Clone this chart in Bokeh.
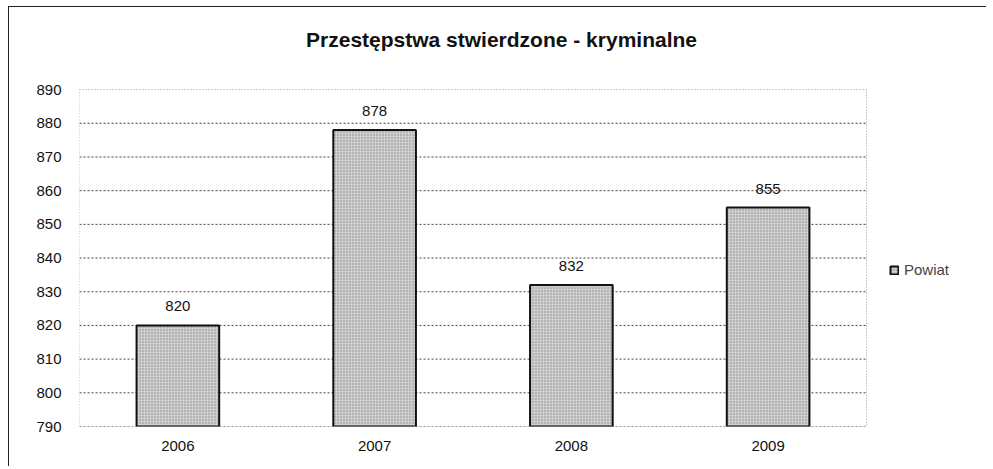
from bokeh.plotting import figure
from bokeh.models import ColumnDataSource, Legend, LegendItem, LabelSet, Label, Range1d, FixedTicker
from bokeh.core.properties import value
from bokeh.embed import file_html
from bokeh.resources import INLINE

years = ["2006", "2007", "2008", "2009"]
values = [820, 878, 832, 855]
labels = [str(v) for v in values]
y_ticks = list(range(790, 891, 10))
series_name = "Powiat"
title = "Przestępstwa stwierdzone - kryminalne"

n = len(years)
xs = [i + 0.5 for i in range(n)]
src = ColumnDataSource(dict(x=xs, top=values, lab=labels))

# frame extended upward (room for title) and to the right (room for legend)
p = figure(x_range=Range1d(0, n + 0.61), y_range=Range1d(y_ticks[0], y_ticks[-1] + 22),
           frame_width=907, frame_height=411,
           output_backend="svg", toolbar_location=None,
           min_border_left=70, min_border_right=0, min_border_top=8, min_border_bottom=40)
p.styles = {"border-left": "1px solid #222", "border-top": "1px solid #222",
            "margin-left": "8px", "margin-top": "6px"}
p.title = None
p.outline_line_color = None
p.xgrid.grid_line_color = None
p.ygrid.grid_line_color = None

# grid lines across the plot area only
grid_y = y_ticks[:-1]
p.segment(x0=[0] * len(grid_y), x1=[n] * len(grid_y), y0=grid_y, y1=grid_y,
          line_color="#444444", line_dash="2 2", line_width=1)
# plot-area border
p.quad(left=[0], right=[n], bottom=[y_ticks[0]], top=[y_ticks[-1]], fill_color=None,
       line_color="#999999", line_dash="1 2", line_width=1)

r = p.vbar(x="x", top="top", bottom=y_ticks[0], width=0.42, source=src,
           fill_color="#cfcfcf", line_color="#111111", line_width=2,
           hatch_pattern="dot", hatch_color="#8a8a8a", hatch_scale=3, hatch_weight=1)

lab = LabelSet(x="x", y="top", text="lab", source=src, y_offset=14, text_align="center",
               text_font=value("Liberation Sans"), text_font_size="15px", text_color="#111111")
p.add_layout(lab)

ttl = Label(x=2.145, y=y_ticks[-1] + 14.8, text=title, text_align="center",
            text_baseline="middle", text_font="Liberation Sans", text_font_size="21px",
            text_font_style="bold", text_color="#111111")
p.add_layout(ttl)

p.yaxis.ticker = FixedTicker(ticks=y_ticks)
p.xaxis.ticker = FixedTicker(ticks=xs)
p.xaxis.major_label_overrides = {x: y for x, y in zip(xs, years)}
for ax in (p.xaxis, p.yaxis):
    ax.major_tick_line_color = None
    ax.minor_tick_line_color = None
    ax.major_label_text_font = "Liberation Sans"
    ax.major_label_text_font_size = "15px"
    ax.major_label_text_color = "#111111"
p.xaxis.axis_line_color = None
p.yaxis.axis_line_color = None
p.xaxis.major_label_standoff = 8
p.yaxis.major_label_standoff = 12

legend = Legend(items=[LegendItem(label=series_name, renderers=[r])],
                location=(810, 148), border_line_color=None, background_fill_alpha=0,
                label_text_font="Liberation Sans", label_text_font_size="15px",
                glyph_width=10, glyph_height=10, label_standoff=5, padding=0, margin=0)
p.add_layout(legend, "center")

open("out.html", "w").write(file_html(p, INLINE))
